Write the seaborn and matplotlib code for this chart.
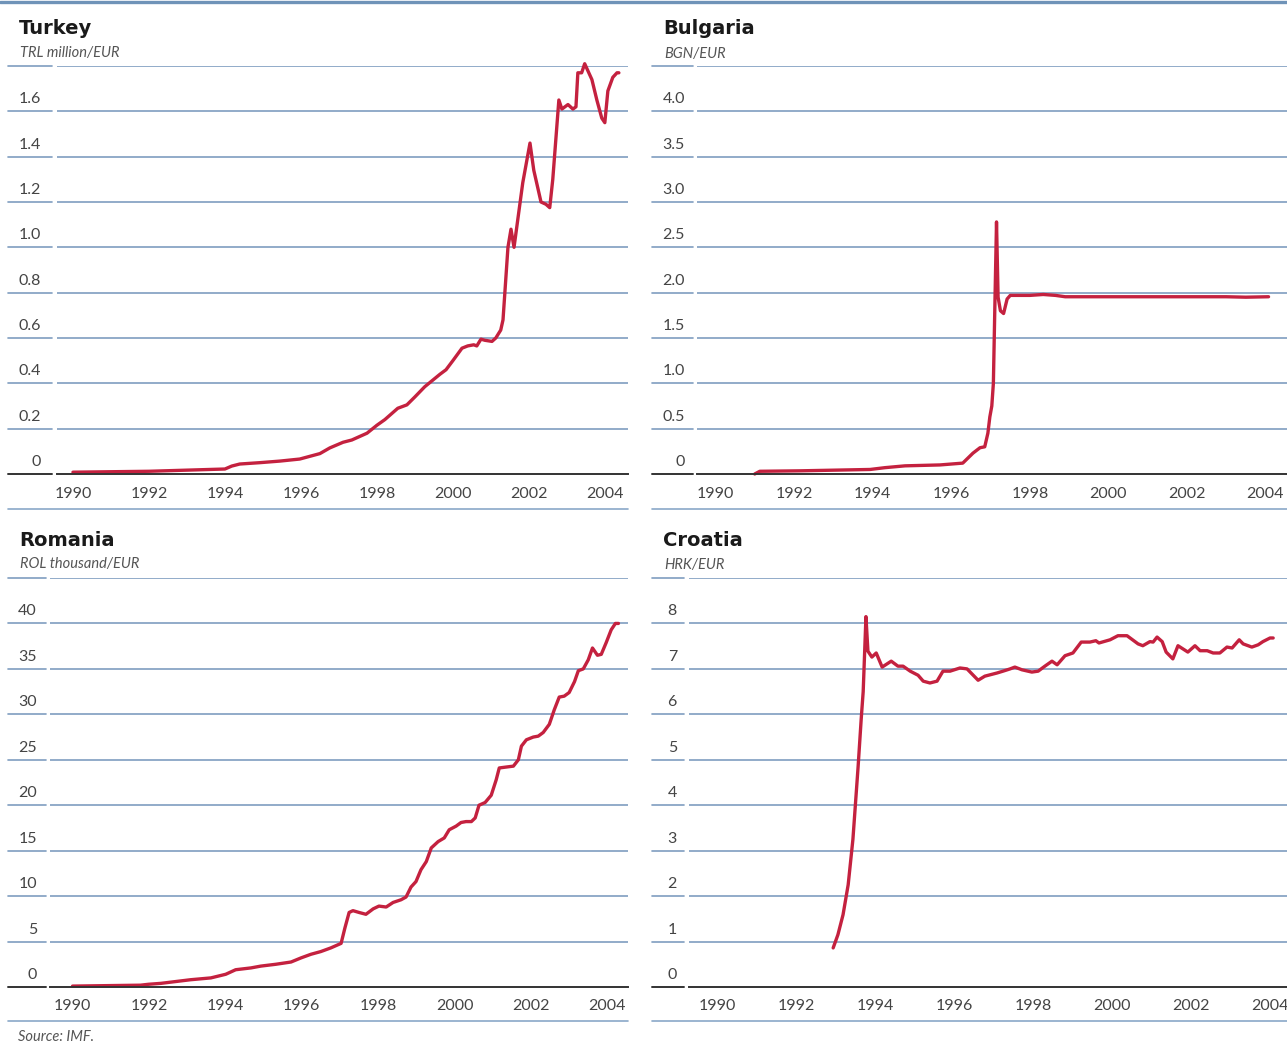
import matplotlib
matplotlib.use('Agg')
import matplotlib.pyplot as plt
import matplotlib.transforms as mtransforms
from matplotlib.lines import Line2D
import seaborn as sns

sns.set_style('white')
plt.rcParams['font.family'] = ['Lato', 'DejaVu Sans']

W, H = 1287, 1046
RED = '#c4213f'
GRID = '#7f9dc0'
AXIS = '#333333'
TXT = '#444444'

# Turkey, TRL million per EUR
tr_year = [1990.0, 1992.0, 1994.0, 1994.18, 1994.39, 1994.92, 1995.45, 1995.97, 1996.5, 1996.76,
           1997.11, 1997.34, 1997.74, 1998.0, 1998.21, 1998.55, 1998.79, 1999.0, 1999.26, 1999.66,
           1999.82, 2000.0, 2000.24, 2000.39, 2000.55, 2000.63, 2000.74, 2000.84, 2001.03, 2001.13,
           2001.26, 2001.32, 2001.45, 2001.53, 2001.61, 2001.84, 2002.03, 2002.13, 2002.32, 2002.45,
           2002.55, 2002.63, 2002.79, 2002.87, 2003.03, 2003.16, 2003.24, 2003.29, 2003.39, 2003.47,
           2003.66, 2003.79, 2003.92, 2004.0, 2004.08, 2004.21, 2004.32, 2004.37]
tr_val = [0.008, 0.012, 0.022, 0.035, 0.044, 0.05, 0.057, 0.066, 0.09, 0.115,
          0.14, 0.15, 0.18, 0.215, 0.24, 0.29, 0.305, 0.34, 0.385, 0.44,
          0.46, 0.50, 0.555, 0.565, 0.57, 0.565, 0.595, 0.59, 0.585, 0.60,
          0.635, 0.68, 1.0, 1.08, 1.0, 1.285, 1.46, 1.34, 1.2, 1.19,
          1.175, 1.30, 1.65, 1.61, 1.63, 1.61, 1.62, 1.77, 1.77, 1.81,
          1.74, 1.65, 1.57, 1.55, 1.69, 1.75, 1.77, 1.77]
tr_ticks = [0, 0.2, 0.4, 0.6, 0.8, 1.0, 1.2, 1.4, 1.6]
tr_labels = ['0', '0.2', '0.4', '0.6', '0.8', '1.0', '1.2', '1.4', '1.6']

# Bulgaria, BGN per EUR
bg_year = [1990.99, 1991.12, 1992.14, 1993.93, 1994.31, 1994.82, 1995.71, 1996.29, 1996.55, 1996.73,
           1996.85, 1996.93, 1996.98, 1997.03, 1997.07, 1997.11, 1997.15, 1997.19, 1997.25, 1997.33,
           1997.42, 1997.5, 1998.0, 1998.34, 1998.65, 1998.9, 2000.0, 2001.0, 2002.0, 2003.0,
           2003.5, 2004.08]
bg_val = [0.0, 0.03, 0.035, 0.05, 0.07, 0.09, 0.1, 0.12, 0.23, 0.29,
          0.3, 0.45, 0.63, 0.75, 1.0, 1.9, 2.78, 1.95, 1.8, 1.77,
          1.93, 1.97, 1.97, 1.98, 1.97, 1.955, 1.955, 1.955, 1.955, 1.955,
          1.95, 1.955]
bg_ticks = [0, 0.5, 1.0, 1.5, 2.0, 2.5, 3.0, 3.5, 4.0]
bg_labels = ['0', '0.5', '1.0', '1.5', '2.0', '2.5', '3.0', '3.5', '4.0']

# Romania, ROL thousand per EUR
ro_year = [1990.0, 1991.78, 1991.99, 1992.31, 1992.7, 1993.09, 1993.62, 1994.01, 1994.27, 1994.67,
           1994.93, 1995.32, 1995.72, 1995.98, 1996.24, 1996.5, 1996.76, 1997.03, 1997.13, 1997.24,
           1997.34, 1997.5, 1997.68, 1997.87, 1998.02, 1998.21, 1998.39, 1998.6, 1998.73, 1998.86,
           1998.99, 1999.12, 1999.26, 1999.39, 1999.57, 1999.73, 1999.86, 2000.04, 2000.17, 2000.3,
           2000.44, 2000.54, 2000.64, 2000.8, 2000.96, 2001.09, 2001.17, 2001.35, 2001.54, 2001.67,
           2001.75, 2001.88, 2002.06, 2002.19, 2002.32, 2002.48, 2002.61, 2002.74, 2002.87, 2003.0,
           2003.14, 2003.24, 2003.37, 2003.5, 2003.61, 2003.74, 2003.84, 2003.97, 2004.1, 2004.21,
           2004.29]
ro_val = [0.1, 0.2, 0.3, 0.4, 0.6, 0.8, 1.0, 1.4, 1.9, 2.1,
          2.3, 2.5, 2.75, 3.2, 3.6, 3.9, 4.3, 4.8, 6.5, 8.2,
          8.4, 8.2, 8.0, 8.6, 8.9, 8.8, 9.3, 9.6, 9.9, 11.0,
          11.6, 12.9, 13.8, 15.3, 16.0, 16.4, 17.3, 17.7, 18.1, 18.2,
          18.2, 18.6, 20.0, 20.3, 21.1, 22.8, 24.1, 24.2, 24.3, 25.0,
          26.5, 27.2, 27.5, 27.6, 28.0, 28.9, 30.5, 31.9, 32.0, 32.4,
          33.6, 34.8, 35.0, 36.0, 37.3, 36.5, 36.6, 37.9, 39.3, 40.0,
          40.0]
ro_ticks = [0, 5, 10, 15, 20, 25, 30, 35, 40]
ro_labels = ['0', '5', '10', '15', '20', '25', '30', '35', '40']

# Croatia, HRK per EUR
hr_year = [1992.94, 1993.06, 1993.19, 1993.32, 1993.44, 1993.57, 1993.65, 1993.7, 1993.77, 1993.82,
           1993.92, 1994.03, 1994.18, 1994.41, 1994.58, 1994.71, 1994.89, 1995.09, 1995.22, 1995.39,
           1995.57, 1995.72, 1995.9, 1996.15, 1996.33, 1996.61, 1996.78, 1997.09, 1997.24, 1997.42,
           1997.54, 1997.72, 1997.97, 1998.13, 1998.3, 1998.48, 1998.61, 1998.81, 1999.01, 1999.22,
           1999.44, 1999.59, 1999.67, 1999.95, 2000.15, 2000.38, 2000.66, 2000.78, 2000.96, 2001.04,
           2001.14, 2001.27, 2001.37, 2001.54, 2001.67, 2001.92, 2002.1, 2002.23, 2002.41, 2002.56,
           2002.73, 2002.91, 2003.04, 2003.22, 2003.32, 2003.54, 2003.7, 2003.82, 2004.0, 2004.08]
hr_val = [0.86, 1.15, 1.59, 2.25, 3.25, 4.83, 5.9, 6.5, 8.15, 7.39,
          7.26, 7.35, 7.04, 7.17, 7.06, 7.06, 6.95, 6.86, 6.73, 6.69,
          6.73, 6.95, 6.95, 7.02, 7.0, 6.75, 6.84, 6.91, 6.95, 7.0,
          7.04, 6.98, 6.93, 6.95, 7.06, 7.17, 7.09, 7.29, 7.35, 7.59,
          7.59, 7.62, 7.57, 7.64, 7.73, 7.73, 7.55, 7.51, 7.6, 7.59,
          7.7, 7.6, 7.37, 7.22, 7.51, 7.37, 7.51, 7.4, 7.4, 7.35,
          7.35, 7.48, 7.46, 7.64, 7.55, 7.48, 7.53, 7.6, 7.68, 7.68]
hr_ticks = [0, 1, 2, 3, 4, 5, 6, 7, 8]
hr_labels = ['0', '1', '2', '3', '4', '5', '6', '7', '8']

major_years = list(range(1990, 2005, 2))
minor_years = list(range(1991, 2004, 2))


def fx(px):
    return px / W


def fy(py):
    return 1 - py / H


fig = plt.figure(figsize=(W / 100, H / 100), dpi=100)

panels = [
    dict(title='Turkey', unit='TRL million/EUR', x=tr_year, y=tr_val, ticks=tr_ticks, labels=tr_labels,
         ymax=1.8, box=(57, 628, 66, 474), xlim=(1989.58, 2004.61), seg=(8, 52), lab_x=41,
         tpos=(19, 28), upos=(20, 53)),
    dict(title='Bulgaria', unit='BGN/EUR', x=bg_year, y=bg_val, ticks=bg_ticks, labels=bg_labels,
         ymax=4.5, box=(697, 1287, 66, 474), xlim=(1989.52, 2004.55), seg=(652, 693), lab_x=685,
         tpos=(663, 29), upos=(664, 54)),
    dict(title='Romania', unit='ROL thousand/EUR', x=ro_year, y=ro_val, ticks=ro_ticks, labels=ro_labels,
         ymax=45, box=(50, 628, 578, 987), xlim=(1989.41, 2004.54), seg=(8, 46), lab_x=37,
         tpos=(19, 540), upos=(20, 564)),
    dict(title='Croatia', unit='HRK/EUR', x=hr_year, y=hr_val, ticks=hr_ticks, labels=hr_labels,
         ymax=9, box=(689, 1287, 578, 987), xlim=(1989.29, 2004.43), seg=(652, 684), lab_x=677,
         tpos=(663, 540), upos=(664, 565)),
]

for p in panels:
    l, r, t, b = p['box']
    ax = fig.add_axes([fx(l), fy(b), (r - l) / W, (b - t) / H])
    sns.lineplot(x=p['x'], y=p['y'], ax=ax, color=RED, lw=2.4, estimator=None, sort=False)
    for ln in ax.lines:
        ln.set_clip_on(False)
        ln.set_solid_joinstyle('round')
    ax.set_xlim(*p['xlim'])
    ax.set_ylim(0, p['ymax'])
    ax.set(xlabel='', ylabel='')
    ax.set_yticks([])
    sns.despine(ax=ax, left=True)
    ax.spines['bottom'].set_color(AXIS)
    ax.spines['bottom'].set_linewidth(1.4)

    # horizontal grid lines, plus short segment under each label
    trans = mtransforms.blended_transform_factory(fig.transFigure, ax.transData)
    for v in p['ticks'][1:] + [p['ymax']]:
        ax.axhline(v, color=GRID, lw=1.2, zorder=0)
    for v in p['ticks'] + [p['ymax']]:
        fig.add_artist(Line2D([fx(p['seg'][0]), fx(p['seg'][1])], [v, v], transform=trans,
                              color=AXIS if v == 0 else GRID, lw=1.4 if v == 0 else 1.2))
    lab_trans = mtransforms.offset_copy(trans, fig=fig, y=5, units='dots')
    for v, s in zip(p['ticks'], p['labels']):
        fig.text(fx(p['lab_x']), v, s, transform=lab_trans, ha='right', va='bottom',
                 fontsize=11.5, color=TXT)

    ax.set_xticks(major_years)
    ax.set_xticklabels([str(y) for y in major_years])
    ax.set_xticks(minor_years, minor=True)
    ax.tick_params(axis='x', which='major', direction='in', length=8, width=1.2, color=AXIS,
                   labelsize=11.5, labelcolor=TXT, pad=9)
    ax.tick_params(axis='x', which='minor', direction='in', length=5, width=1.2, color=AXIS)

    fig.text(fx(p['tpos'][0]), fy(p['tpos'][1]), p['title'], fontsize=14, fontweight='bold',
             family='DejaVu Sans', color='#1a1a1a', ha='left', va='center')
    fig.text(fx(p['upos'][0]), fy(p['upos'][1]), p['unit'], fontsize=10.5, style='italic',
             color='#555555', ha='left', va='center')

# frame lines
fig.add_artist(Line2D([0, 1], [fy(1.5), fy(1.5)], color='#6f93b8', lw=2.4))
for yy in (509, 1021):
    fig.add_artist(Line2D([fx(8), fx(628)], [fy(yy), fy(yy)], color='#8aa8c8', lw=1.2))
    fig.add_artist(Line2D([fx(652), fx(1287)], [fy(yy), fy(yy)], color='#8aa8c8', lw=1.2))

fig.text(fx(18), fy(1037), 'Source: IMF.', fontsize=10.5, style='italic',
         color='#555555', ha='left', va='center')

fig.savefig('out.png', dpi=100)
